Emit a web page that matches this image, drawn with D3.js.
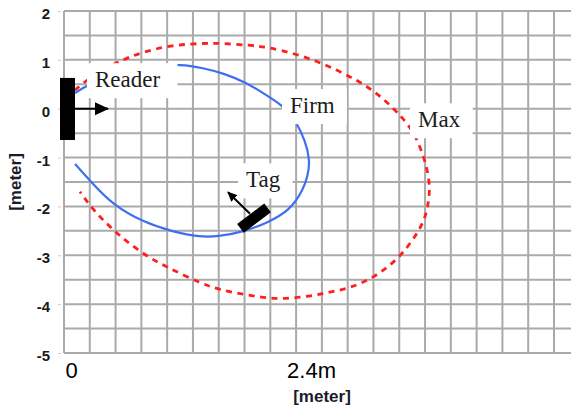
<!DOCTYPE html>
<html>
<head>
<meta charset="utf-8">
<script src="https://cdn.jsdelivr.net/npm/d3@7"></script>
<style>
  body { margin: 0; background: #fff; }
  svg { display: block; }
</style>
</head>
<body>
<svg id="plot" width="571" height="408"></svg>
<script>
// values in meters
var yTicks = [2, 1, 0, -1, -2, -3, -4, -5];
var xTickValues = [0, 2.4];
var xTickLabels = ["0", "2.4m"];

// "Firm" read range (blue)
var firmX = [0.11, 0.23, 0.56, 0.86, 1.18, 1.39, 1.59, 1.83, 1.99, 2.16, 2.26, 2.33, 2.41, 2.46, 2.44, 2.39, 2.26, 2.03, 1.79, 1.56, 1.36, 1.09, 0.79, 0.49, 0.28, 0.11];
var firmY = [0.32, 0.485, 0.75, 0.87, 0.915, 0.83, 0.73, 0.53, 0.32, 0.10, -0.09, -0.31, -0.64, -1.05, -1.36, -1.67, -2.08, -2.34, -2.52, -2.61, -2.63, -2.52, -2.32, -1.97, -1.52, -1.13];

// "Max" read range (red dashed)
var maxX = [0.11, 0.23, 0.41, 0.61, 0.76, 1.06, 1.39, 1.56, 1.86, 2.03, 2.33, 2.63, 2.93, 3.16, 3.39, 3.48, 3.54, 3.61, 3.66, 3.65, 3.61, 3.49, 3.33, 3.09, 2.86, 2.63, 2.36, 2.09, 1.83, 1.56, 1.36, 1.03, 0.86, 0.63, 0.46, 0.29, 0.16];
var maxY = [0.38, 0.59, 0.83, 1.02, 1.14, 1.30, 1.34, 1.34, 1.30, 1.26, 1.12, 0.89, 0.59, 0.28, -0.19, -0.44, -0.68, -1.05, -1.52, -1.87, -2.28, -2.69, -3.10, -3.47, -3.67, -3.77, -3.87, -3.90, -3.81, -3.71, -3.57, -3.24, -3.06, -2.73, -2.42, -2.07, -1.70];

// reader antenna and tag
var readerX = [-0.04, 0.11];
var readerY = [-0.64, 0.63];
var readerArrow = [[0.11, 0], [0.44, 0]];
var tagCenter = [1.90, -2.24];
var tagArrow = [[1.86, -2.15], [1.64, -1.71]];

// annotation labels
var labelNames = ["Reader", "Firm", "Max", "Tag"];
var labelX = [0.31, 2.26, 3.54, 1.82];
var labelY = [0.44, -0.09, -0.38, -1.61];

var svg = d3.select("#plot");
var width = +svg.attr("width");
var height = +svg.attr("height");

var xScale = d3.scaleLinear().domain([0, 4.9]).range([64, 554]);
var yScale = d3.scaleLinear().domain([-5, 2]).range([353, 11]);
var cell = 4.9 / 19;

var defs = svg.append("defs");
defs.append("marker")
    .attr("id", "headBig")
    .attr("markerUnits", "userSpaceOnUse")
    .attr("markerWidth", 14).attr("markerHeight", 14)
    .attr("refX", 13).attr("refY", 7)
    .attr("orient", "auto")
    .append("path").attr("d", "M0,0.5 L14,7 L0,13.5 Z").attr("fill", "#000");
defs.append("marker")
    .attr("id", "headSmall")
    .attr("markerUnits", "userSpaceOnUse")
    .attr("markerWidth", 10).attr("markerHeight", 10)
    .attr("refX", 9).attr("refY", 5)
    .attr("orient", "auto")
    .append("path").attr("d", "M0,0.5 L10,5 L0,9.5 Z").attr("fill", "#000");

// grid
var grid = svg.append("g");
grid.selectAll("line.v")
    .data(d3.range(0, 20).map(function(i){ return i * cell; }))
    .enter().append("line")
    .attr("x1", function(d){ return xScale(d); })
    .attr("x2", function(d){ return xScale(d); })
    .attr("y1", yScale(2)).attr("y2", yScale(-5))
    .attr("stroke", "#aaa").attr("stroke-width", 2);
grid.selectAll("line.h")
    .data(d3.range(-5, 2.01, 0.5))
    .enter().append("line")
    .attr("x1", xScale(0)).attr("x2", width)
    .attr("y1", function(d){ return yScale(d); })
    .attr("y2", function(d){ return yScale(d); })
    .attr("stroke", "#aaa").attr("stroke-width", 2);

// y axis
var yAxis = svg.append("g")
    .attr("transform", "translate(" + (xScale(0) - 3) + ",0)")
    .call(d3.axisLeft(yScale).tickValues(yTicks).tickSize(3).tickPadding(8)
        .tickFormat(function(d){ return String(d); }));
yAxis.select(".domain").remove();
yAxis.selectAll(".tick line").attr("stroke", "#ccc");
yAxis.selectAll("text")
    .attr("dy", "0.5em")
    .attr("fill", "#1a1a1a")
    .style("font", "bold 15px 'Liberation Sans', Arial, sans-serif");

// x axis
var xAxis = svg.append("g")
    .attr("transform", "translate(0," + yScale(-5) + ")")
    .call(d3.axisBottom(xScale).tickValues(xTickValues).tickSize(0)
        .tickFormat(function(d, i){ return xTickLabels[i]; }));
xAxis.select(".domain").remove();
xAxis.selectAll("text")
    .attr("x", 7).attr("y", 9).attr("dy", "0.71em")
    .attr("fill", "#000")
    .style("font", "22px 'Liberation Sans', Arial, sans-serif");

svg.append("text")
    .attr("x", 322).attr("y", 402)
    .attr("text-anchor", "middle")
    .attr("fill", "#1a1a2a")
    .style("font", "bold 17px 'Liberation Sans', Arial, sans-serif")
    .text("[meter]");

svg.append("text")
    .attr("transform", "translate(21,182) rotate(-90)")
    .attr("text-anchor", "middle")
    .attr("fill", "#1a1a2a")
    .style("font", "bold 17px 'Liberation Sans', Arial, sans-serif")
    .text("[meter]");

// curves
var line = d3.line()
    .x(function(d){ return xScale(d[0]); })
    .y(function(d){ return yScale(d[1]); })
    .curve(d3.curveBasis);

svg.append("path")
    .datum(d3.zip(maxX, maxY))
    .attr("fill", "none")
    .attr("stroke", "#ff1f1f")
    .attr("stroke-width", 2.8)
    .attr("stroke-dasharray", "6,5.5")
    .attr("d", line);

svg.append("path")
    .datum(d3.zip(firmX, firmY))
    .attr("fill", "none")
    .attr("stroke", "#3d6ff2")
    .attr("stroke-width", 2.2)
    .attr("d", line);

// reader
svg.append("rect")
    .attr("x", xScale(readerX[0]))
    .attr("y", yScale(readerY[1]))
    .attr("width", xScale(readerX[1]) - xScale(readerX[0]))
    .attr("height", yScale(readerY[0]) - yScale(readerY[1]))
    .attr("fill", "#000");
svg.append("line")
    .attr("x1", xScale(readerArrow[0][0])).attr("y1", yScale(readerArrow[0][1]))
    .attr("x2", xScale(readerArrow[1][0])).attr("y2", yScale(readerArrow[1][1]))
    .attr("stroke", "#000").attr("stroke-width", 2)
    .attr("marker-end", "url(#headBig)");

// tag
svg.append("line")
    .attr("x1", xScale(tagArrow[0][0])).attr("y1", yScale(tagArrow[0][1]))
    .attr("x2", xScale(tagArrow[1][0])).attr("y2", yScale(tagArrow[1][1]))
    .attr("stroke", "#000").attr("stroke-width", 2)
    .attr("marker-end", "url(#headSmall)");
svg.append("rect")
    .attr("x", -17).attr("y", -5.5)
    .attr("width", 34).attr("height", 11)
    .attr("fill", "#000")
    .attr("transform", "translate(" + xScale(tagCenter[0]) + "," + yScale(tagCenter[1]) + ") rotate(-37)");

// labels with white boxes
var labels = svg.append("g");
labelNames.forEach(function(name, i){
    var g = labels.append("g");
    var box = g.append("rect").attr("fill", "#fff");
    var t = g.append("text")
        .attr("x", xScale(labelX[i]))
        .attr("y", yScale(labelY[i]))
        .attr("fill", "#1c1c1c")
        .style("font", "23px 'Liberation Serif', 'Times New Roman', serif")
        .text(name);
    var b = t.node().getBBox();
    box.attr("x", b.x - 8).attr("y", b.y - 4)
        .attr("width", b.width + 8 + (name === "Reader" ? 17 : 12))
        .attr("height", b.height + 10);
});
</script>
</body>
</html>
